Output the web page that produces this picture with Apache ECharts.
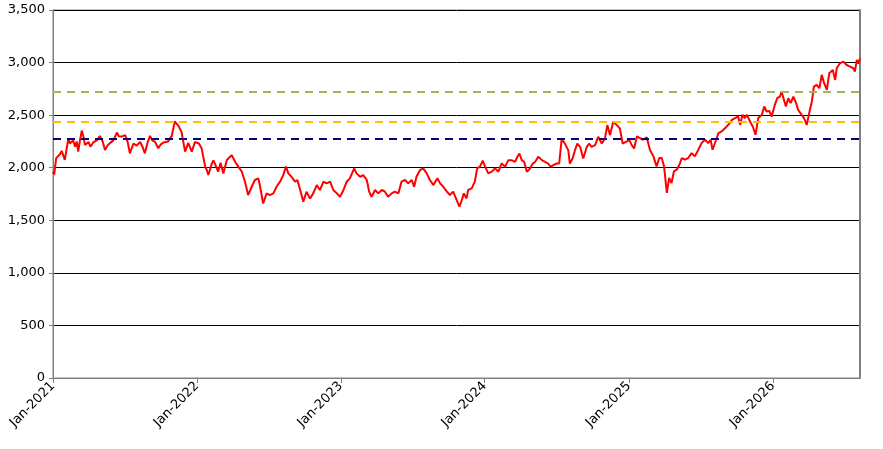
<!DOCTYPE html>
<html>
<head>
<meta charset="utf-8">
<script src="https://cdn.jsdelivr.net/npm/echarts@6/dist/echarts.min.js"></script>
<style>
html,body{margin:0;padding:0;background:#fff;}
#chart{width:883px;height:449px;}
</style>
</head>
<body>
<div id="chart"></div>
<script>
// Series start date (day 0)
const startYear = 2021, startMonth = 0, startDay = 1;
// Days since 1 Jan 2021 for each observation
const dayOffsets = [
0,3,8,13,18,22,26,30,39,43,47,51,56,60,64,68,73,77,81,90,95,102,111,119,126,132,138,145,153,162,167,174,183,189,195,204,212,221,227,233,240,246,252,259,267,273,280,292,301,309,313,318,326,335,343,352,360,
365,370,377,386,390,394,403,407,411,419,425,432,441,445,453,462,470,479,487,495,504,512,521,527,533,542,550,559,567,576,584,591,597,605,614,620,627,635,643,652,660,669,677,686,694,703,711,720,
728,736,745,753,764,770,779,787,796,802,808,817,825,834,842,850,859,867,876,884,893,901,910,916,922,931,939,948,956,965,975,982,990,999,1007,1015,1024,1031,1037,1042,1049,1053,1062,1070,1076,
1083,1090,1096,1104,1113,1121,1130,1138,1147,1155,1163,1172,1178,1183,1189,1195,1202,1210,1217,1223,1231,1240,1248,1256,1262,1269,1278,1284,1290,1296,1301,1307,1311,1318,1324,1330,1337,1345,1354,1360,1366,1375,1383,1392,1400,1406,1413,1421,1430,1438,
1445,1453,1462,1468,1474,1481,1489,1497,1506,1514,1523,1531,1538,1544,1550,1557,1563,1569,1575,1582,1589,1595,1603,1611,1620,1628,1637,1645,1654,1662,1668,1673,1682,1688,1696,1705,1713,1722,1730,1738,1743,1749,1755,1760,1768,1775,1782,1789,1798,1804,1810,1817,1823,
1831,1837,1844,1848,1854,1859,1865,1871,1878,1885,1890,1899,1905,1912,1919,1925,1930,1937,1944,1950,1956,1963,1969,1978,1984,1988,1996,2005,2013,2022,2030,2034,2039,2043,2047
];
// Index level
const values = [
1960,1935,2090,2110,2130,2160,2150,2074,2280,2230,2240,2260,2200,2250,2153,2250,2353,2300,2217,2245,2200,2240,2260,2302,2250,2169,2210,2236,2260,2334,2300,2296,2310,2250,2137,2230,2210,2245,2200,2137,2240,2302,2260,2245,2185,2220,2240,2250,2300,2440,2420,2400,2340,2153,2236,2153,2245,
2263,2230,2184,2011,1978,1930,2041,2070,2073,1962,2048,1946,2073,2080,2120,2057,2010,1962,1867,1740,1819,1883,1899,1788,1660,1756,1740,1756,1819,1867,1930,2010,1946,1914,1867,1883,1788,1677,1772,1708,1756,1835,1788,1867,1851,1867,1788,1756,
1724,1780,1867,1899,1994,1946,1914,1930,1883,1772,1724,1788,1756,1788,1772,1724,1756,1772,1756,1867,1883,1851,1883,1819,1914,1978,1994,1946,1883,1835,1899,1851,1819,1772,1740,1772,1692,1629,1692,1756,1708,1788,1803,1867,1994,
2010,2067,2010,1946,1962,1994,1962,2041,2010,2072,2072,2056,2104,2135,2072,2056,1961,1993,2040,2056,2104,2072,2056,2040,2009,2024,2040,2040,2262,2246,2262,2167,2040,2088,2167,2230,2199,2088,2199,2230,2199,2215,2294,2230,2278,2405,2310,2437,2405,2373,
2230,2246,2262,2215,2183,2297,2282,2266,2290,2171,2108,2013,2092,2092,2013,1760,1902,1854,1965,1981,2028,2092,2076,2092,2139,2108,2171,2234,2266,2234,2266,2171,2266,2329,2345,2377,2408,2456,2472,2487,2408,2503,2472,2503,2440,2392,2313,2472,2503,2582,2535,2540,2487,
2598,2661,2677,2725,2646,2582,2661,2614,2677,2614,2551,2503,2472,2408,2535,2630,2772,2788,2756,2883,2804,2740,2899,2930,2835,2946,2993,3009,2977,2962,2946,2914,3025,2990,3040
];
// Horizontal reference levels (green, orange, navy)
const refLevels = [2724, 2433, 2277];
const yMin = 0, yMax = 3500, yStep = 500;
const monthNames = ['Jan','Feb','Mar','Apr','May','Jun','Jul','Aug','Sep','Oct','Nov','Dec'];

const toTime = d => new Date(startYear, startMonth, startDay + d).getTime();
const seriesData = dayOffsets.map((d, i) => [toTime(d), values[i]]);
const refColors = ['#9bbb59', '#ffc000', '#000080'];

const chart = echarts.init(document.getElementById('chart'), null, {renderer: 'canvas'});
chart.setOption({
  animation: false,
  backgroundColor: '#ffffff',
  grid: {left: 53, right: 23, top: 10, bottom: 71, show: true, borderColor: '#808080', borderWidth: 1, backgroundColor: 'transparent'},
  xAxis: {
    type: 'time',
    min: toTime(0),
    max: toTime(dayOffsets[dayOffsets.length - 1]),
    minInterval: 365 * 86400000,
    maxInterval: 366 * 86400000,
    axisLine: {show: true, lineStyle: {color: '#808080', width: 1}},
    axisTick: {show: true, length: 5, lineStyle: {color: '#808080'}},
    splitLine: {show: false},
    axisLabel: {
      rotate: 45,
      margin: 6,
      color: '#000',
      fontFamily: 'DejaVu Sans',
      fontSize: 13,
      showMinLabel: true,
      showMaxLabel: false,
      formatter: function (v) {
        const d = new Date(v);
        return monthNames[d.getMonth()] + '-' + d.getFullYear();
      }
    }
  },
  yAxis: [{
    type: 'value',
    min: yMin, max: yMax, interval: yStep,
    axisLine: {show: true, lineStyle: {color: '#808080', width: 1}},
    axisTick: {show: true, length: 4, lineStyle: {color: '#808080'}},
    splitLine: {show: true, lineStyle: {color: '#000', width: 1}},
    axisLabel: {
      margin: 8,
      color: '#000',
      fontFamily: 'DejaVu Sans',
      fontSize: 13,
      formatter: v => v.toLocaleString('en-US')
    }
  }, {
    type: 'value',
    position: 'right',
    min: yMin, max: yMax, interval: yStep,
    axisLine: {show: true, lineStyle: {color: '#808080', width: 2}},
    axisTick: {show: false},
    axisLabel: {show: false},
    splitLine: {show: false}
  }],
  series: [
    {
      type: 'line',
      data: seriesData,
      showSymbol: false,
      symbol: 'none',
      lineStyle: {color: '#ff0000', width: 2},
      z: 2
    },
    {
      type: 'line',
      data: [],
      z: 3,
      markLine: {
        silent: true,
        symbol: ['none', 'none'],
        label: {show: false},
        animation: false,
        data: refLevels.map((v, i) => ({
          yAxis: v,
          lineStyle: {color: refColors[i], width: 2, type: [8, 6]}
        }))
      }
    }
  ]
});
</script>
</body>
</html>
